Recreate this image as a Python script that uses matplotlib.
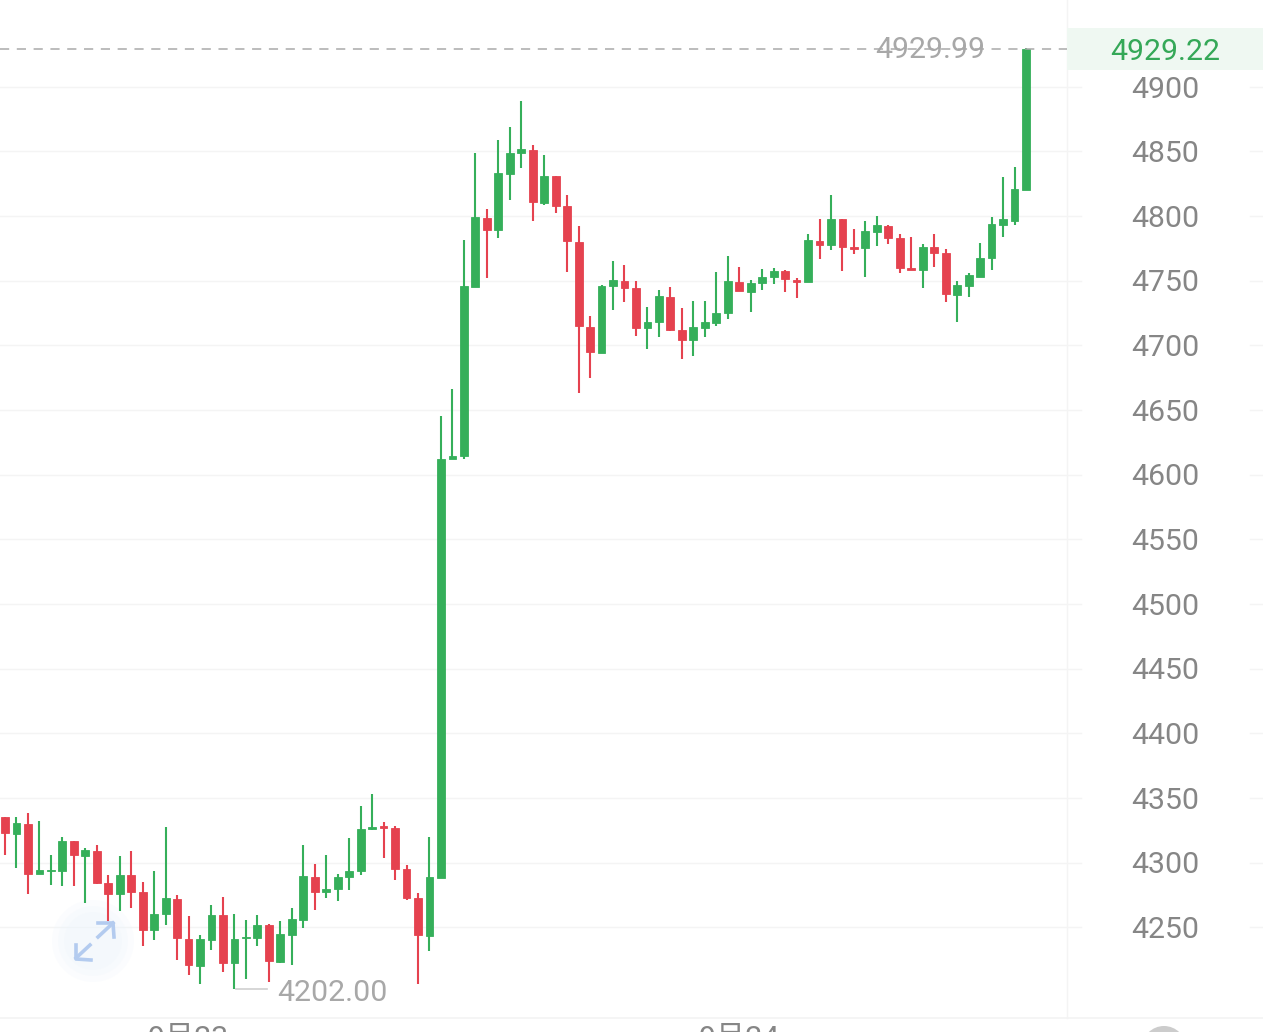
import matplotlib
matplotlib.use("Agg")
import matplotlib.pyplot as plt
from matplotlib.patches import Circle, Rectangle
from matplotlib.transforms import Affine2D, blended_transform_factory

plt.rcParams['font.family'] = ['Roboto', 'Noto Sans CJK SC', 'DejaVu Sans']

# OHLC
opens = [4334.9,4322.2,4329.9,4290.8,4293.6,4293.3,4316.3,4305.2,4309.3,4284.1,4275.5,4290.0,4277.1,4248.0,4260.1,
         4271.9,4240.8,4220.1,4240.0,4259.3,4222.2,4241.8,4242.0,4251.6,4223.2,4244.3,4255.7,4289.2,4277.1,4279.4,
         4289.0,4293.1,4326.1,4327.9,4327.1,4294.9,4272.7,4243.3,4287.9,4612.3,4614.3,4745.2,4798.6,4788.8,4832.6,
         4848.6,4851.4,4810.2,4830.8,4807.6,4779.8,4714.3,4694.4,4745.5,4750.1,4744.4,4713.3,4718.2,4737.5,4712.0,
         4704.0,4713.7,4717.4,4725.1,4749.3,4741.6,4748.3,4752.7,4757.1,4750.6,4748.8,4781.0,4777.7,4797.3,4776.1,
         4775.1,4788.0,4792.4,4782.8,4759.6,4758.1,4775.9,4771.2,4738.8,4746.2,4753.2,4767.6,4793.1,4796.5,4820.0]
highs = [4334.9,4335.6,4338.7,4331.8,4306.2,4319.6,4316.3,4311.4,4313.4,4290.5,4304.7,4309.1,4284.6,4293.6,4327.6,
         4275.0,4258.5,4244.1,4267.0,4273.0,4260.1,4255.7,4259.1,4252.1,4254.6,4264.7,4313.4,4299.0,4306.0,4291.5,
         4318.6,4344.1,4352.9,4331.0,4327.9,4298.0,4276.1,4320.1,4645.2,4666.1,4781.6,4849.1,4805.8,4858.7,4868.5,
         4888.8,4855.3,4847.1,4831.1,4816.6,4791.9,4722.8,4746.5,4765.3,4762.0,4750.1,4730.0,4742.4,4745.2,4729.2,
         4734.1,4734.1,4756.5,4769.4,4760.9,4750.6,4758.9,4760.1,4758.3,4752.2,4786.4,4797.5,4816.6,4798.0,4790.3,
         4796.2,4800.1,4793.4,4786.2,4783.9,4778.2,4786.2,4774.1,4749.6,4756.3,4779.2,4799.6,4829.8,4837.7,4929.99]
lows = [4305.7,4295.4,4275.8,4290.8,4282.5,4281.5,4282.0,4268.9,4283.5,4254.9,4262.4,4265.2,4235.6,4240.2,4251.8,
        4224.8,4213.4,4206.4,4232.0,4215.7,4202.0,4210.0,4235.6,4207.7,4222.7,4220.6,4249.5,4263.4,4272.4,4270.6,
        4278.6,4290.0,4325.5,4303.4,4286.6,4271.4,4206.4,4231.7,4287.9,4611.9,4612.3,4745.0,4751.9,4782.9,4812.5,
        4837.0,4796.0,4808.6,4802.7,4756.8,4663.0,4675.1,4694.2,4727.4,4733.6,4707.1,4696.8,4706.6,4710.7,4689.5,
        4691.9,4706.5,4715.0,4720.2,4742.1,4725.9,4742.9,4747.5,4741.3,4736.7,4748.8,4766.9,4773.8,4757.6,4770.7,
        4752.9,4776.6,4778.5,4756.0,4758.1,4744.2,4760.4,4733.6,4718.1,4737.5,4752.9,4758.3,4783.9,4793.4,4820.0]
closes = [4322.7,4330.5,4291.3,4293.9,4294.4,4316.5,4305.5,4309.8,4284.3,4275.8,4290.3,4277.1,4248.2,4260.3,4272.2,
          4241.3,4220.6,4240.5,4259.5,4222.4,4240.8,4242.8,4251.8,4224.0,4244.6,4256.0,4289.5,4277.3,4279.7,4289.2,
          4293.1,4326.3,4327.6,4326.8,4295.1,4272.7,4243.8,4288.7,4611.9,4614.3,4745.7,4799.1,4789.3,4832.9,4849.1,
          4851.7,4810.7,4831.1,4807.9,4780.3,4714.8,4695.2,4746.0,4750.6,4744.7,4713.5,4718.4,4737.8,4712.2,4704.2,
          4714.0,4717.9,4725.3,4749.8,4742.1,4748.5,4752.9,4757.3,4750.9,4749.3,4781.5,4777.9,4797.5,4775.9,4774.8,
          4788.5,4792.9,4783.1,4759.9,4758.3,4776.4,4771.5,4739.3,4746.5,4754.0,4767.9,4793.7,4797.3,4820.5,4929.22]

price_ticks = [4900,4850,4800,4750,4700,4650,4600,4550,4500,4450,4400,4350,4300,4250]
date_labels = ["9月23", "9月24"]
date_index = [16, 64]
last_price = 4929.22
max_price = 4929.99
min_price = 4202.00
min_index = 20

GREEN = "#35af5a"
RED = "#e5424f"
W, H = 1263, 1032
fig = plt.figure(figsize=(W/100, H/100), dpi=100, facecolor="white")
ax = fig.add_axes([0, 0, 1, 1])
ax.axis("off")
step = 11.472
ax.set_xlim(-5/step, (W-5)/step)
k = 650/840.5
zero_px = 927.2
ax.set_ylim(4250+(zero_px-H)*k, 4250+zero_px*k)

px = Affine2D().scale(1, -1).translate(0, H)          # picture pixels
frac_y = ax.get_yaxis_transform()                      # axes x, price y

# grid
for v in price_ticks:
    ax.plot([0, 1081/W], [v, v], transform=frac_y, color="#f4f4f4", lw=1, zorder=1)
    ax.plot([1250/W, 1], [v, v], transform=frac_y, color="#f4f4f4", lw=1, zorder=1)

# panel borders
ax.add_line(plt.Line2D([1067, 1067], [0, 1018], transform=px, color="#f4f4f4", lw=1, zorder=1))
ax.add_line(plt.Line2D([0, W], [1018, 1018], transform=px, color="#f3f3f3", lw=1.2, zorder=1))

# last price tag
ax.add_patch(Rectangle((1067, 28), 196, 42, transform=px, facecolor="#eff8f2", edgecolor="none", zorder=2))

# candles
for i in range(len(opens)):
    c = GREEN if closes[i] >= opens[i] else RED
    ax.vlines(i, lows[i], highs[i], color=c, lw=1.5, zorder=3)
    lo, hi = min(opens[i], closes[i]), max(opens[i], closes[i])
    ax.bar(i, hi-lo, bottom=lo, width=0.68, color=c, edgecolor=c, lw=0.6, zorder=4)

# last price dashed line and labels
ax.plot([0, 1067/W], [last_price, last_price], transform=frac_y, color="#a9a9a9", lw=1.1,
        dashes=(6, 5), zorder=5)
ax.text(875.5, 50.5, f"{max_price:.2f}", transform=px, color="#a8a8a8", fontsize=21.8, va="center", ha="left", zorder=4)
ax.text(1165.5, 52, f"{last_price:.2f}", transform=px, color="#35a858", fontsize=21.8, va="center", ha="center", zorder=6)

# price tick labels
for v in price_ticks:
    ax.text(1165, 930-(v-4250)/k, str(v), transform=px, color="#868686", fontsize=21.8, va="center", ha="center", zorder=6)

# min marker
ax.plot([min_index+0.1, min_index+2.8], [min_price, min_price], color="#cfcfcf", lw=1.2, zorder=2)
ax.text(277, 993, f"{min_price:.2f}", transform=px, color="#a8a8a8", fontsize=21.8, va="center", ha="left", zorder=6)

# date labels, cut by the bottom edge
dates_tr = blended_transform_factory(ax.transData, px)
for i, lab in zip(date_index, date_labels):
    ax.text(i, 1025, lab, transform=dates_tr, color="#868686", fontsize=21.8, va="top", ha="center",
            family=['Roboto', 'Noto Sans CJK SC'], zorder=6, clip_on=False)

# expand button
for r, a in zip([41, 35, 29], [0.22, 0.22, 0.22]):
    ax.add_patch(Circle((93, 941), r, transform=px, facecolor="#edf4fc", edgecolor="none", alpha=a, zorder=2))
icon = "#b3cbef"
for xs, ys in [([98, 113], [937, 923]), ([98, 113, 114], [923, 923, 937]),
               ([90, 76], [945, 958]), ([76, 76, 91], [945, 959, 960])]:
    ax.add_line(plt.Line2D(xs, ys, transform=px, color=icon, lw=2.6, zorder=7))

# gray handle, cut by the bottom edge
ax.add_patch(Circle((1164, 1048), 22, transform=px, facecolor="#cccccc", edgecolor="none", zorder=2))

fig.savefig("out.png", dpi=100, facecolor="white")
